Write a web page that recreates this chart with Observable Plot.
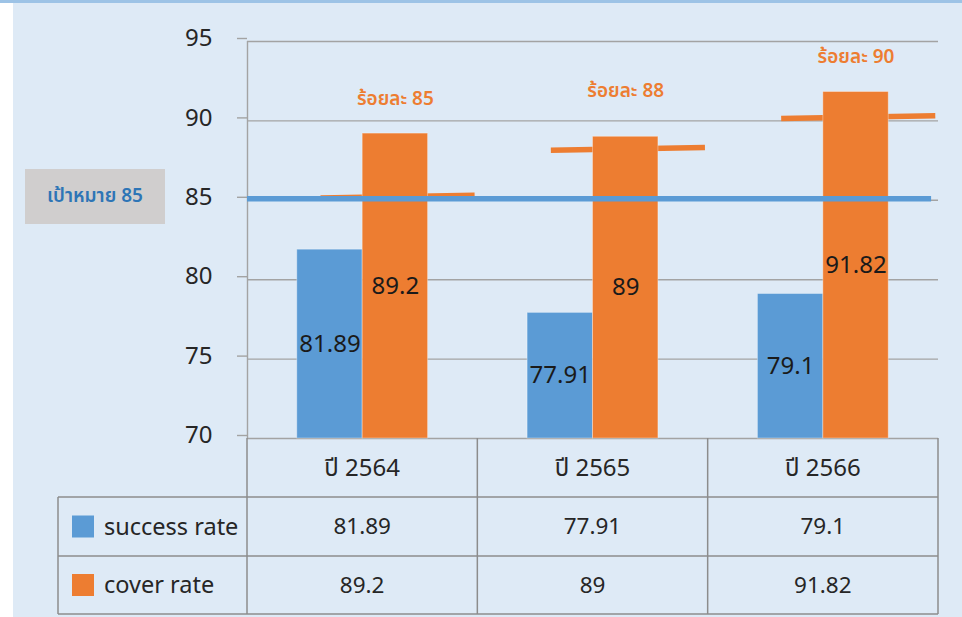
<!DOCTYPE html>
<html>
<head>
<meta charset="utf-8">
<script src="https://cdn.jsdelivr.net/npm/d3@7"></script>
<script src="https://cdn.jsdelivr.net/npm/@observablehq/plot@0.6"></script>
<style>
  html, body { margin: 0; padding: 0; }
  body { width: 962px; height: 617px; background: #ffffff; position: relative; overflow: hidden;
         font-family: "Noto Sans", "Noto Sans Thai", Tahoma, "DejaVu Sans", sans-serif; }
  #strip { position: absolute; left: 0; top: 0; width: 962px; height: 3px; background: #9dc3e6; }
  #panel { position: absolute; left: 13px; top: 3px; width: 949px; height: 614px; background: #deeaf6; }
  #chart { position: absolute; left: 0; top: 0; }
  #table { position: absolute; left: 0; top: 0; }
  #goal { position: absolute; left: 25px; top: 169px; width: 140px; height: 55px; background: #d0cece;
          color: #2e75b6; font-size: 19px; font-weight: 600; display: flex; align-items: center; justify-content: center; }
</style>
</head>
<body>
<div id="strip"></div>
<div id="panel"></div>
<div id="chart"></div>
<div id="goal"></div>
<script>
// ---- data ----
const years = ["ปี 2564", "ปี 2565", "ปี 2566"];
const successRate = [81.89, 77.91, 79.1];
const coverRate = [89.2, 89, 91.82];
const yearTargets = [85, 88, 90];
const overallTarget = 85;
const seriesNames = ["success rate", "cover rate"];
const seriesColors = ["#5b9bd5", "#ed7d31"];
const yTicks = [70, 75, 80, 85, 90, 95];
const goalLabel = "เป้าหมาย 85";
const targetPrefix = "ร้อยละ ";

// ---- layout constants ----
const W = 962, H = 440;
const barW = 0.284;        // bar width in category units
const yMin = 70, yMax = 95;

const rows = years.map((year, i) => ({
  i, year, success: successRate[i], cover: coverRate[i], target: yearTargets[i]
}));

const chart = Plot.plot({
  width: W, height: H,
  marginLeft: 247, marginRight: 24, marginTop: 41, marginBottom: 2,
  style: { background: "transparent", overflow: "visible", fontFamily: "'Noto Sans', 'Noto Sans Thai', Tahoma, sans-serif" },
  x: { domain: [0, years.length], axis: null },
  y: { domain: [yMin, yMax], axis: null },
  marks: [
    Plot.gridY(yTicks, { stroke: "#a3a3a3", strokeOpacity: 1, strokeWidth: 1.4 }),
    Plot.axisY(yTicks, { tickSize: 10, tickPadding: 25, fontSize: 24, fill: "#262626", stroke: "#a3a3a3", strokeWidth: 1.4, dy: -3 }),
    Plot.ruleX([0], { stroke: "#a3a3a3", strokeWidth: 1.4 }),
    // year targets (short orange lines)
    Plot.link(rows, {
      x1: d => d.i + 0.5 - 0.183, x2: d => d.i + 0.5 + 0.486,
      y1: d => d.target + 0.15, y2: d => d.target + 0.32,
      stroke: seriesColors[1], strokeWidth: 5.5
    }),
    // bars
    Plot.rect(rows, {
      x1: d => d.i + 0.5 - barW, x2: d => d.i + 0.5, y1: yMin, y2: d => d.success,
      fill: seriesColors[0], stroke: "#ffffff", strokeOpacity: 0.35, strokeWidth: 1
    }),
    Plot.rect(rows, {
      x1: d => d.i + 0.5, x2: d => d.i + 0.5 + barW, y1: yMin, y2: d => d.cover,
      fill: seriesColors[1], stroke: "#ffffff", strokeOpacity: 0.35, strokeWidth: 1
    }),
    // overall target line
    Plot.ruleY([overallTarget], { x1: 0, x2: years.length - 0.03, y: d => d + 0.1, stroke: seriesColors[0], strokeWidth: 5.5 }),
    // value labels inside bars
    Plot.text(rows, {
      x: d => d.i + 0.5 - barW / 2, y: d => (yMin + d.success) / 2, text: d => String(d.success),
      fontSize: 24, fill: "#1a1a1a"
    }),
    Plot.text(rows, {
      x: d => d.i + 0.5 + barW / 2, y: d => (yMin + d.cover) / 2, text: d => String(d.cover),
      fontSize: 24, fill: "#1a1a1a"
    }),
    // target labels
    Plot.text(rows, {
      x: d => d.i + 0.5 + barW / 2, y: d => Math.max(d.target + 3.9, d.cover + 2.2),
      text: d => targetPrefix + d.target,
      fontSize: 19, fontWeight: 600, fill: seriesColors[1]
    })
  ]
});
document.getElementById("chart").appendChild(chart);
document.getElementById("goal").textContent = goalLabel;

// ---- data table under the chart ----
const xs = chart.scale("x");
const ys = chart.scale("y");
const edges = d3.range(years.length + 1).map(i => xs.apply(i));
const tableLeft = 58;
const top0 = ys.apply(yMin);
const rowH = [59, 59, 58];
const rowY = [top0, top0 + rowH[0], top0 + rowH[0] + rowH[1], top0 + rowH[0] + rowH[1] + rowH[2]];
const lineColor = "#8c8c8c";

const svg = d3.select("body").append("svg")
  .attr("id", "table").attr("width", 962).attr("height", 617)
  .style("position", "absolute").style("left", 0).style("top", 0)
  .style("font-family", "'Noto Sans', 'Noto Sans Thai', Tahoma, sans-serif");

// vertical lines
edges.forEach(x => svg.append("line").attr("x1", x).attr("x2", x).attr("y1", rowY[0]).attr("y2", rowY[3])
  .attr("stroke", lineColor).attr("stroke-width", 1.5));
svg.append("line").attr("x1", tableLeft).attr("x2", tableLeft).attr("y1", rowY[1]).attr("y2", rowY[3])
  .attr("stroke", lineColor).attr("stroke-width", 1.5);
// horizontal lines
[1, 2, 3].forEach(r => svg.append("line").attr("x1", tableLeft).attr("x2", edges[edges.length - 1])
  .attr("y1", rowY[r]).attr("y2", rowY[r]).attr("stroke", lineColor).attr("stroke-width", 1.5));

// header
years.forEach((y, i) => svg.append("text").attr("x", (edges[i] + edges[i + 1]) / 2).attr("y", (rowY[0] + rowY[1]) / 2)
  .attr("dy", "0.35em").attr("text-anchor", "middle").attr("font-size", 24).attr("fill", "#262626").text(y));

// series rows
const seriesValues = [successRate, coverRate];
seriesNames.forEach((name, s) => {
  const cy = (rowY[s + 1] + rowY[s + 2]) / 2;
  svg.append("rect").attr("x", 72).attr("y", cy - 11).attr("width", 22).attr("height", 22).attr("fill", seriesColors[s]);
  svg.append("text").attr("x", 104).attr("y", cy).attr("dy", "0.35em").attr("font-size", 23.5).attr("fill", "#262626").text(name);
  seriesValues[s].forEach((v, i) => svg.append("text").attr("x", (edges[i] + edges[i + 1]) / 2).attr("y", cy)
    .attr("dy", "0.35em").attr("text-anchor", "middle").attr("font-size", 22.5).attr("fill", "#262626").text(String(v)));
});
</script>
</body>
</html>
